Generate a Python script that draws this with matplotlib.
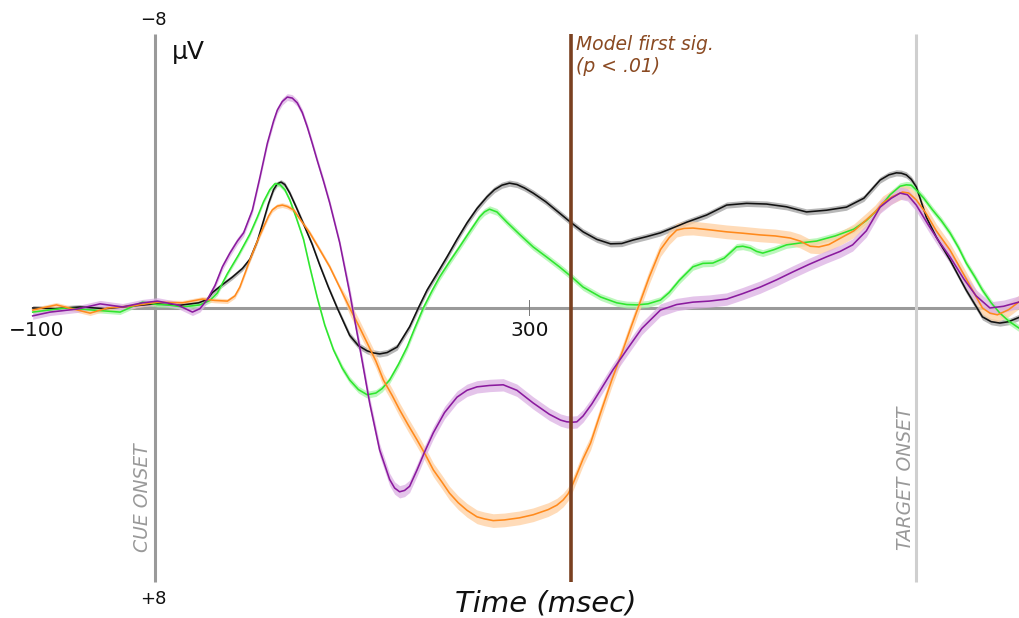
import numpy as np
import matplotlib
matplotlib.use("Agg")
import matplotlib.pyplot as plt

# ---------------- data ----------------
black_t = [-98, -80, -60, -40, -20, 0, 20, 35, 42, 46, 54, 62, 70, 76, 82, 87, 91, 95, 98, 101, 104,
           108, 113, 119, 126, 132, 139, 146, 156, 163, 170, 175, 180, 186, 194, 204, 211, 218, 226,
           234, 242, 250, 258, 266, 272, 278, 284, 290, 296, 303, 313, 324, 333, 343, 354, 365, 374,
           383, 394, 405, 416, 426, 442, 458, 474, 490, 506, 522, 538, 554, 568, 581, 588, 594, 598,
           602, 606, 610, 618, 626, 637, 650, 657, 663, 670, 677, 684, 692]
black_v = [0.0, 0.02, -0.03, 0.02, -0.05, -0.12, -0.08, -0.15, -0.25, -0.45, -0.68, -0.9, -1.15,
           -1.42, -1.95, -2.55, -3.05, -3.45, -3.62, -3.67, -3.6, -3.35, -2.95, -2.45, -1.85, -1.25,
           -0.6, 0.0, 0.8, 1.1, 1.25, 1.31, 1.34, 1.3, 1.14, 0.55, 0.0, -0.52, -1.0, -1.49, -2.0,
           -2.48, -2.9, -3.24, -3.45, -3.58, -3.64, -3.6, -3.5, -3.35, -3.1, -2.77, -2.5, -2.22,
           -2.0, -1.87, -1.88, -1.98, -2.08, -2.19, -2.35, -2.5, -2.71, -3.0, -3.05, -3.03, -2.95,
           -2.8, -2.85, -2.94, -3.2, -3.73, -3.88, -3.94, -3.93, -3.88, -3.75, -3.53, -2.65, -2.07,
           -1.4, -0.52, -0.1, 0.26, 0.4, 0.44, 0.4, 0.28]

green_t = [-98, -85, -71, -50, -28, -10, 2, 10, 22, 36, 44, 50, 58, 67, 76, 82, 87, 92, 96, 100, 104,
           108, 113, 119, 124, 130, 136, 143, 150, 156, 163, 170, 177, 182, 188, 195, 202, 208, 215,
           222, 228, 236, 244, 252, 260, 264, 268, 274, 282, 292, 303, 314, 324, 334, 343, 357, 370,
           378, 386, 395, 405, 412, 420, 431, 439, 447, 456, 466, 471, 477, 482, 487, 496, 506, 518,
           530, 545, 560, 570, 580, 589, 597, 602, 606, 610, 616, 623, 630, 637, 644, 650, 657, 663,
           670, 677, 684, 692]
green_v = [0.12, 0.06, 0.0, 0.06, 0.12, -0.17, -0.1, -0.09, -0.03, -0.09, -0.22, -0.44, -1.0, -1.55,
           -2.15, -2.65, -3.1, -3.45, -3.62, -3.6, -3.45, -3.15, -2.65, -2.0, -1.2, -0.3, 0.5, 1.22,
           1.75, 2.1, 2.38, 2.53, 2.48, 2.35, 2.1, 1.65, 1.14, 0.6, 0.0, -0.5, -0.9, -1.35, -1.78,
           -2.22, -2.65, -2.8, -2.88, -2.8, -2.5, -2.15, -1.78, -1.48, -1.2, -0.9, -0.61, -0.32,
           -0.15, -0.1, -0.09, -0.12, -0.23, -0.45, -0.8, -1.2, -1.3, -1.31, -1.45, -1.78, -1.8,
           -1.75, -1.65, -1.6, -1.7, -1.84, -1.9, -1.95, -2.1, -2.3, -2.55, -2.9, -3.3, -3.55, -3.59,
           -3.58, -3.44, -3.2, -2.86, -2.55, -2.19, -1.75, -1.31, -0.9, -0.52, -0.15, 0.15, 0.38,
           0.58]

orange_t = [-98, -79, -52, -38, -18, 2, 22, 38, 48, 58, 64, 68, 72, 76, 82, 87, 91, 94, 98, 102, 106,
            111, 117, 124, 132, 140, 148, 156, 163, 170, 177, 183, 190, 196, 203, 210, 217, 223, 230,
            236, 243, 250, 258, 264, 271, 280, 292, 303, 315, 322, 327, 331, 334, 338, 343, 349, 357,
            366, 375, 381, 387, 396, 405, 412, 418, 424, 431, 444, 458, 471, 485, 497, 509, 517, 525,
            532, 540, 551, 560, 570, 577, 583, 591, 599, 604, 610, 618, 626, 637, 650, 663, 669, 675,
            684, 692]
orange_v = [0.06, -0.09, 0.15, 0.0, -0.06, -0.17, -0.15, -0.26, -0.22, -0.2, -0.35, -0.61, -1.0, -1.4,
            -1.95, -2.36, -2.68, -2.86, -2.97, -3.0, -2.96, -2.86, -2.55, -2.19, -1.7, -1.2, -0.6,
            0.0, 0.5, 1.02, 1.55, 2.1, 2.55, 2.97, 3.42, 3.85, 4.3, 4.72, 5.08, 5.4, 5.68, 5.9, 6.09,
            6.15, 6.2, 6.18, 6.12, 6.03, 5.88, 5.75, 5.6, 5.42, 5.2, 4.85, 4.4, 3.94, 3.06, 2.1, 1.22,
            0.6, 0.0, -0.9, -1.7, -2.05, -2.27, -2.32, -2.33, -2.28, -2.22, -2.18, -2.13, -2.1, -2.04,
            -1.95, -1.8, -1.78, -1.85, -2.07, -2.25, -2.57, -2.8, -3.06, -3.25, -3.38, -3.35, -3.15,
            -2.75, -2.25, -1.69, -0.85, 0.0, 0.15, 0.2, 0.05, -0.17]

purple_t = [-98, -84, -62, -44, -26, -10, 2, 18, 30, 36, 42, 48, 54, 60, 66, 71, 78, 84, 90, 95, 98,
            102, 106, 110, 114, 118, 122, 126, 130, 135, 140, 148, 156, 164, 172, 180, 188, 192, 196,
            200, 204, 210, 216, 223, 232, 242, 250, 258, 268, 279, 290, 303, 316, 325, 330, 335, 338,
            343, 350, 357, 367, 378, 390, 405, 418, 431, 444, 458, 471, 485, 498, 511, 524, 538, 549,
            559, 570, 581, 590, 597, 603, 610, 620, 628, 637, 648, 658, 669, 680, 692]
purple_v = [0.23, 0.12, 0.03, -0.12, -0.03, -0.15, -0.2, -0.09, 0.12, 0.02, -0.25, -0.65, -1.2, -1.6,
            -1.95, -2.19, -2.85, -3.8, -4.8, -5.45, -5.77, -6.02, -6.15, -6.12, -5.98, -5.7, -5.28,
            -4.8, -4.3, -3.7, -3.06, -1.9, -0.44, 1.14, 2.77, 4.14, 5.0, 5.25, 5.36, 5.32, 5.2, 4.72,
            4.2, 3.64, 3.05, 2.6, 2.4, 2.3, 2.26, 2.24, 2.4, 2.77, 3.1, 3.27, 3.32, 3.33, 3.32, 3.15,
            2.8, 2.39, 1.8, 1.22, 0.6, 0.06, -0.1, -0.17, -0.2, -0.26, -0.42, -0.61, -0.82, -1.05,
            -1.27, -1.49, -1.65, -1.84, -2.25, -2.94, -3.2, -3.35, -3.3, -3.0, -2.4, -1.95, -1.49,
            -0.85, -0.35, 0.0, -0.05, -0.17]

# standard-error half widths (early, late)
black_sem = (0.07, 0.09)
green_sem = (0.07, 0.10)
orange_sem = (0.07, 0.20)
purple_sem = (0.10, 0.18)

cue_onset = 0
model_first_sig = 333
target_onset = 610
x_ticks = [-100, 300]
y_ends = [-8, 8]

# ---------------- figure ----------------
W, H = 1019, 618
fig = plt.figure(figsize=(W / 100, H / 100), dpi=100)
ax = fig.add_axes([0, 0, 1, 1])
ax.set_xlim(-124.2, 692.3)
ax.set_ylim(9.04, -8.98)
ax.axis("off")

axis_gray = "#9a9a9a"
ax.plot([-98, 692.3], [0, 0], color=axis_gray, lw=2.2, zorder=1, solid_capstyle="butt")
ax.plot([cue_onset, cue_onset], y_ends, color=axis_gray, lw=2.2, zorder=1, solid_capstyle="butt")
ax.plot([target_onset, target_onset], y_ends, color="#cfcfcf", lw=2.2, zorder=1,
        solid_capstyle="butt")

# tick at 300
ax.plot([x_ticks[1], x_ticks[1]], [-0.22, 0.2], color="#777777", lw=0.7, zorder=2)

series = [
    (black_t, black_v, black_sem, "#111111", "#a0a0a0"),
    (green_t, green_v, green_sem, "#2ee62e", "#a6f5a6"),
    (orange_t, orange_v, orange_sem, "#ff8a1c", "#ffd0a0"),
    (purple_t, purple_v, purple_sem, "#8a1a9e", "#dcb0e4"),
]
for t, v, sem, col, band in series:
    t = np.asarray(t, float)
    v = np.asarray(v, float)
    s = np.where(t < 150, sem[0], sem[1])
    ax.fill_between(t, v - s, v + s, color=band, alpha=0.75, lw=0, zorder=3)
    ax.plot(t, v, color=col, lw=1.15, zorder=4, solid_joinstyle="round")

brown = "#7a4020"
ax.plot([model_first_sig, model_first_sig], y_ends, color=brown, lw=2.6, zorder=6,
        solid_capstyle="butt")
ax.text(model_first_sig + 4.5, -7.95, "Model first sig.\n(p < .01)", color="#8a4a22",
        fontsize=13.5, style="italic", ha="left", va="top", linespacing=1.2)

# axis labels
ax.text(-1.6, -8.4, "\u22128", fontsize=13, ha="center", va="center", color="#111111")
ax.text(-1.6, 8.5, "+8", fontsize=13, ha="center", va="center", color="#111111")
ax.text(13.6, -7.45, "\u03bcV", fontsize=18, ha="left", va="center", color="#111111")
ax.text(x_ticks[0] + 5, 0.67, "\u2212100", fontsize=14.5, ha="center", va="center",
        color="#111111")
ax.text(x_ticks[1] + 0.5, 0.67, "300", fontsize=14.5, ha="center", va="center", color="#111111")
ax.text(-10.4, 5.54, "CUE ONSET", fontsize=13.5, style="italic", rotation=90,
        ha="center", va="center", color="#999999")
ax.text(601, 4.96, "TARGET ONSET", fontsize=13.5, style="italic", rotation=90,
        ha="center", va="center", color="#999999")
ax.text(313, 8.62, "Time (msec)", fontsize=21, style="italic", ha="center", va="center",
        color="#111111")

fig.savefig("out.png", dpi=100)
